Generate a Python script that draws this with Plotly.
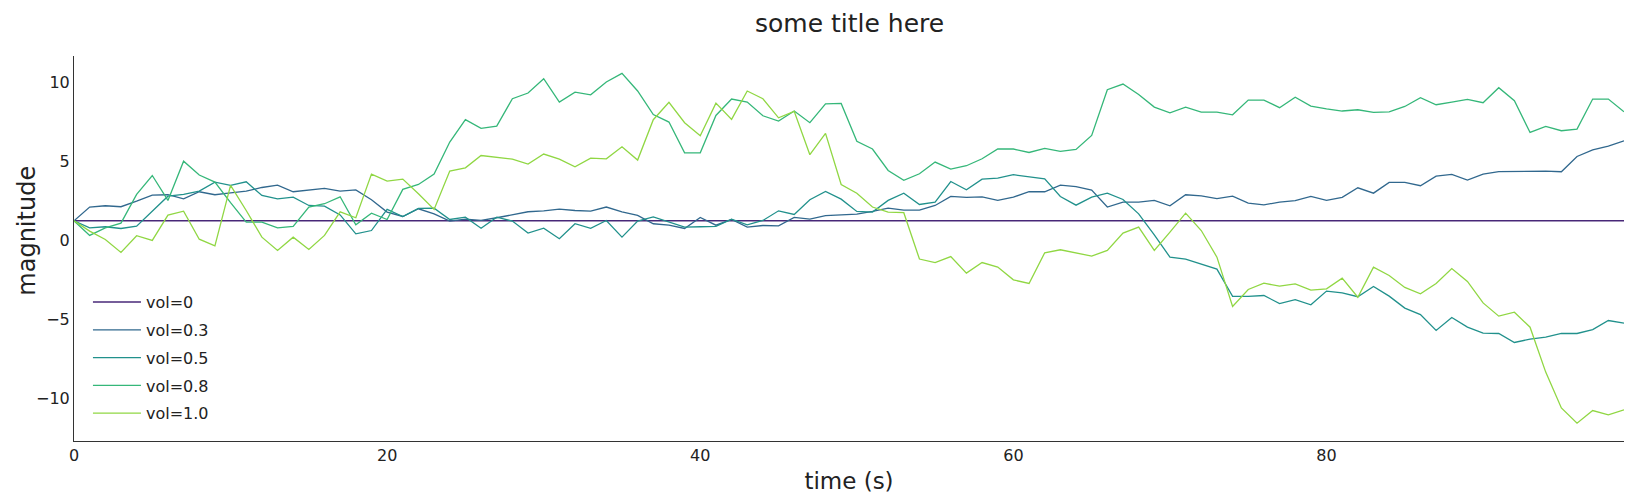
import plotly.graph_objects as go

time_s = list(range(100))

labels = ["vol=0", "vol=0.3", "vol=0.5", "vol=0.8", "vol=1.0"]
colors = ["#482878", "#31688e", "#21918c", "#35b779", "#90d743"]

vol_0 = [
    1.25, 1.25, 1.25, 1.25, 1.25, 1.25, 1.25, 1.25, 1.25, 1.25,
    1.25, 1.25, 1.25, 1.25, 1.25, 1.25, 1.25, 1.25, 1.25, 1.25,
    1.25, 1.25, 1.25, 1.25, 1.25, 1.25, 1.25, 1.25, 1.25, 1.25,
    1.25, 1.25, 1.25, 1.25, 1.25, 1.25, 1.25, 1.25, 1.25, 1.25,
    1.25, 1.25, 1.25, 1.25, 1.25, 1.25, 1.25, 1.25, 1.25, 1.25,
    1.25, 1.25, 1.25, 1.25, 1.25, 1.25, 1.25, 1.25, 1.25, 1.25,
    1.25, 1.25, 1.25, 1.25, 1.25, 1.25, 1.25, 1.25, 1.25, 1.25,
    1.25, 1.25, 1.25, 1.25, 1.25, 1.25, 1.25, 1.25, 1.25, 1.25,
    1.25, 1.25, 1.25, 1.25, 1.25, 1.25, 1.25, 1.25, 1.25, 1.25,
    1.25, 1.25, 1.25, 1.25, 1.25, 1.25, 1.25, 1.25, 1.25, 1.25,
]

vol_03 = [
    1.25, 2.12, 2.20, 2.14, 2.49, 2.88, 2.90, 2.64, 3.09, 2.90,
    3.02, 3.13, 3.36, 3.51, 3.09, 3.21, 3.30, 3.13, 3.21, 2.58,
    1.80, 1.52, 2.01, 1.69, 1.23, 1.35, 1.27, 1.44, 1.65, 1.82,
    1.88, 1.99, 1.90, 1.86, 2.12, 1.82, 1.59, 1.06, 0.97, 0.76,
    1.46, 0.97, 1.33, 0.85, 0.95, 0.93, 1.46, 1.35, 1.57, 1.63,
    1.67, 1.84, 2.05, 1.92, 1.92, 2.22, 2.79, 2.73, 2.77, 2.54,
    2.75, 3.09, 3.09, 3.51, 3.41, 3.19, 2.12, 2.43, 2.43, 2.54,
    2.20, 2.90, 2.83, 2.66, 2.81, 2.37, 2.26, 2.43, 2.52, 2.79,
    2.54, 2.73, 3.34, 3.00, 3.68, 3.68, 3.47, 4.08, 4.19, 3.83,
    4.21, 4.36, 4.38, 4.40, 4.40, 4.36, 5.33, 5.75, 5.99, 6.32,
]

vol_05 = [
    1.25, 0.80, 0.87, 0.76, 0.91, 1.83, 2.81, 2.92, 3.13, 3.70,
    3.49, 3.72, 2.86, 2.64, 2.75, 2.22, 2.18, 1.62, 0.42, 0.63,
    1.97, 1.52, 2.03, 2.05, 1.33, 1.48, 0.78, 1.48, 1.23, 0.47,
    0.78, 0.11, 1.06, 0.77, 1.27, 0.21, 1.23, 1.50, 1.16, 0.85,
    0.87, 0.89, 1.35, 0.99, 1.27, 1.88, 1.65, 2.58, 3.11, 2.62,
    1.84, 1.80, 2.54, 3.00, 2.28, 2.43, 3.74, 3.21, 3.89, 3.96,
    4.17, 4.02, 3.91, 2.79, 2.24, 2.75, 3.00, 2.60, 1.69, 0.35,
    -1.06, -1.18, -1.50, -1.82, -3.55, -3.55, -3.49, -4.00, -3.76, -4.08,
    -3.21, -3.32, -3.57, -2.92, -3.53, -4.29, -4.70, -5.71, -4.89, -5.50,
    -5.88, -5.90, -6.47, -6.26, -6.13, -5.90, -5.90, -5.65, -5.08, -5.25,
]

vol_08 = [
    1.25, 0.32, 0.80, 1.10, 2.92, 4.12, 2.54, 5.03, 4.15, 3.70,
    2.40, 1.16, 1.16, 0.80, 0.89, 2.12, 2.33, 2.77, 0.99, 1.73,
    1.33, 3.24, 3.55, 4.21, 6.24, 7.66, 7.11, 7.25, 8.99, 9.35,
    10.26, 8.78, 9.41, 9.24, 10.05, 10.60, 9.48, 7.99, 7.51, 5.56,
    5.56, 7.93, 8.97, 8.78, 7.91, 7.57, 8.21, 7.47, 8.67, 8.69,
    6.29, 5.80, 4.44, 3.81, 4.23, 4.97, 4.53, 4.74, 5.18, 5.80,
    5.80, 5.58, 5.84, 5.65, 5.77, 6.66, 9.56, 9.92, 9.26, 8.46,
    8.10, 8.46, 8.14, 8.14, 7.97, 8.90, 8.90, 8.42, 9.09, 8.52,
    8.35, 8.21, 8.29, 8.13, 8.16, 8.50, 9.05, 8.61, 8.78, 8.95,
    8.74, 9.69, 8.86, 6.85, 7.23, 6.96, 7.06, 8.97, 8.97, 8.16,
]

vol_10 = [
    1.25, 0.59, 0.06, -0.76, 0.30, 0.00, 1.61, 1.86, 0.08, -0.34,
    3.49, 1.90, 0.21, -0.63, 0.21, -0.57, 0.32, 1.82, 1.44, 4.21,
    3.76, 3.89, 2.96, 1.97, 4.40, 4.61, 5.39, 5.29, 5.16, 4.84,
    5.48, 5.16, 4.67, 5.22, 5.18, 5.94, 5.10, 7.66, 8.76, 7.47,
    6.64, 8.71, 7.68, 9.48, 8.99, 7.78, 8.19, 5.44, 6.79, 3.55,
    3.00, 2.12, 1.80, 1.76, -1.18, -1.40, -1.02, -2.07, -1.40, -1.69,
    -2.50, -2.73, -0.78, -0.59, -0.80, -0.99, -0.63, 0.47, 0.85, -0.63,
    0.53, 1.73, 0.63, -1.06, -4.19, -3.11, -2.71, -2.90, -2.75, -3.15,
    -3.07, -2.39, -3.60, -1.69, -2.22, -2.98, -3.38, -2.73, -1.78, -2.60,
    -3.96, -4.80, -4.55, -5.50, -8.35, -10.62, -11.59, -10.79, -11.06, -10.74,
]

x_tickvals = [0, 20, 40, 60, 80]
y_tickvals = [-10, -5, 0, 5, 10]

series = [vol_0, vol_03, vol_05, vol_08, vol_10]

FONT = "DejaVu Sans"

fig = go.Figure()
for name, color, ys in zip(labels, colors, series):
    fig.add_trace(go.Scatter(
        x=time_s, y=ys, mode="lines", name=name, legendgroup=name,
        line=dict(color=color, width=1.3),
    ))

fig.add_annotation(
    text="magnitude", textangle=-90, showarrow=False,
    xref="paper", yref="paper", x=-0.03, y=0.545,
    xanchor="center", yanchor="middle",
    font=dict(family=FONT, size=24, color="#222222"),
)

fig.add_annotation(
    text="some title here", showarrow=False,
    xref="paper", yref="paper", x=0.5, y=1.0, yshift=16,
    xanchor="center", yanchor="bottom",
    font=dict(family=FONT, size=25, color="#222222"),
)

fig.update_layout(
    width=1634, height=502,
    margin=dict(l=66, r=18, t=48, b=69),
    plot_bgcolor="white", paper_bgcolor="white",
    font=dict(family=FONT, color="#222222", size=16),
    showlegend=True,
    legend=dict(x=0.009, y=0.405, xanchor="left", yanchor="top",
                bgcolor="rgba(0,0,0,0)", font=dict(family=FONT, size=16),
                tracegroupgap=4, itemwidth=48),
    xaxis=dict(range=[0, 99], tickvals=x_tickvals, showgrid=False, zeroline=False,
               showline=True, linecolor="#333333", linewidth=1, ticks="",
               automargin=False,
               title=dict(text="time (s)", font=dict(family=FONT, size=23), standoff=8),
               tickfont=dict(family=FONT, size=16)),
    yaxis=dict(range=[-12.72, 11.70], tickvals=y_tickvals, showgrid=False, zeroline=False,
               showline=True, linecolor="#333333", linewidth=1, ticks="",
               automargin=False,
               tickfont=dict(family=FONT, size=16)),
)

fig.write_html("out.html")
